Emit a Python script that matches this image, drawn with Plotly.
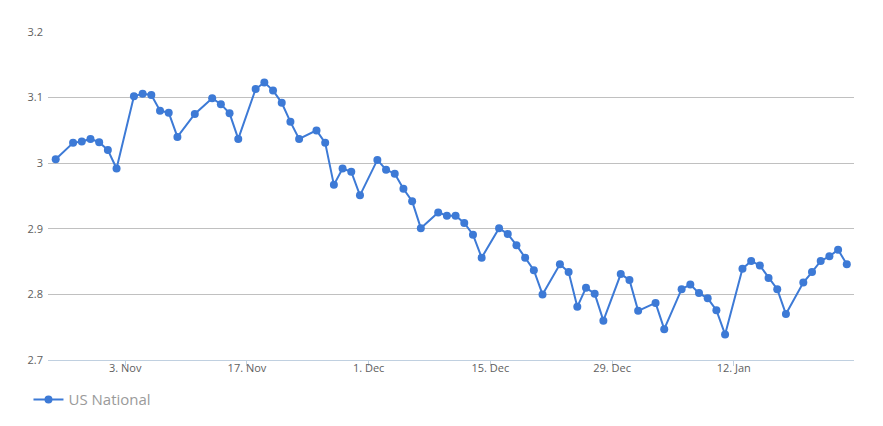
import plotly.graph_objects as go

# daily readings (Mondays and a few days missing in the source)
dates = [
    "2014-10-26", "2014-10-28", "2014-10-29", "2014-10-30", "2014-10-31",
    "2014-11-01", "2014-11-02", "2014-11-04", "2014-11-05", "2014-11-06",
    "2014-11-07", "2014-11-08", "2014-11-09", "2014-11-11", "2014-11-13",
    "2014-11-14", "2014-11-15", "2014-11-16", "2014-11-18", "2014-11-19",
    "2014-11-20", "2014-11-21", "2014-11-22", "2014-11-23", "2014-11-25",
    "2014-11-26", "2014-11-27", "2014-11-28", "2014-11-29", "2014-11-30",
    "2014-12-02", "2014-12-03", "2014-12-04", "2014-12-05", "2014-12-06",
    "2014-12-07", "2014-12-09", "2014-12-10", "2014-12-11", "2014-12-12",
    "2014-12-13", "2014-12-14", "2014-12-16", "2014-12-17", "2014-12-18",
    "2014-12-19", "2014-12-20", "2014-12-21", "2014-12-23", "2014-12-24",
    "2014-12-25", "2014-12-26", "2014-12-27", "2014-12-28", "2014-12-30",
    "2014-12-31", "2015-01-01", "2015-01-03", "2015-01-04", "2015-01-06",
    "2015-01-07", "2015-01-08", "2015-01-09", "2015-01-10", "2015-01-11",
    "2015-01-13", "2015-01-14", "2015-01-15", "2015-01-16", "2015-01-17",
    "2015-01-18", "2015-01-20", "2015-01-21", "2015-01-22", "2015-01-23",
    "2015-01-24", "2015-01-25",
]

us_national = [
    3.006, 3.031, 3.033, 3.037, 3.032,
    3.020, 2.992, 3.102, 3.106, 3.104,
    3.080, 3.077, 3.040, 3.075, 3.099,
    3.090, 3.076, 3.037, 3.113, 3.123,
    3.111, 3.092, 3.063, 3.037, 3.050,
    3.031, 2.967, 2.992, 2.987, 2.951,
    3.005, 2.990, 2.984, 2.961, 2.942,
    2.901, 2.925, 2.920, 2.920, 2.909,
    2.891, 2.856, 2.901, 2.892, 2.875,
    2.856, 2.837, 2.800, 2.846, 2.834,
    2.781, 2.810, 2.801, 2.760, 2.831,
    2.822, 2.775, 2.787, 2.747, 2.808,
    2.815, 2.802, 2.794, 2.776, 2.739,
    2.839, 2.851, 2.844, 2.825, 2.808,
    2.770, 2.818, 2.834, 2.851, 2.858,
    2.868, 2.846,
]

BLUE = "#3d7ad6"
FONT = "Open Sans, Lato, sans-serif"

fig = go.Figure(go.Scatter(
    x=dates,
    y=us_national,
    mode="lines+markers",
    name="US National",
    line=dict(color=BLUE, width=2),
    marker=dict(color=BLUE, size=8),
))

# page body has an 8px margin, so the figure is drawn 8px smaller
fig.update_layout(
    width=875,
    height=418,
    margin=dict(l=40, r=29, t=24, b=66),
    plot_bgcolor="white",
    paper_bgcolor="white",
    font=dict(family=FONT, size=11, color="#606060"),
    showlegend=True,
    legend=dict(
        orientation="h",
        xref="container", yref="container",
        x=0.0234, xanchor="left",
        y=0.102, yanchor="top",
        font=dict(size=15, color="#9a9a9a"),
    ),
    xaxis=dict(
        type="date",
        range=["2014-10-25 02:44", "2015-01-25 19:55"],
        tick0="2014-11-03",
        dtick=14 * 86400000,
        tickformat="%-d. %b",
        showgrid=False,
        showline=True,
        linecolor="#c0d0e0",
        linewidth=1,
        ticks="outside",
        ticklen=5,
        tickcolor="#c0d0e0",
        ticklabelstandoff=-7,
        zeroline=False,
        automargin=False,
    ),
    yaxis=dict(
        range=[2.7, 3.2],
        dtick=0.1,
        tick0=2.7,
        showgrid=True,
        gridcolor="#c0c0c0",
        gridwidth=1,
        zeroline=False,
        ticks="",
        ticklabelstandoff=4,
        automargin=False,
    ),
)

fig.write_html("out.html")
